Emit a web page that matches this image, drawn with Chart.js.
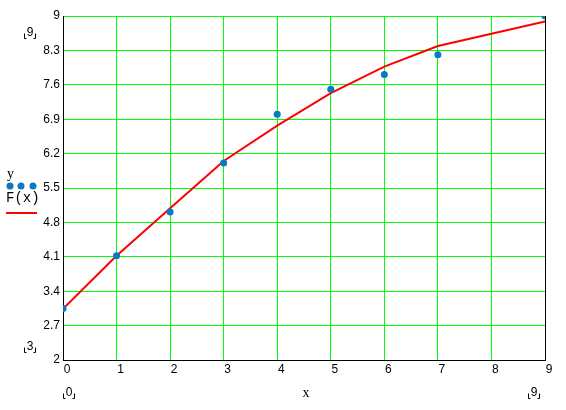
<!DOCTYPE html>
<html>
<head>
<meta charset="utf-8">
<script src="https://cdn.jsdelivr.net/npm/chart.js@4/dist/chart.umd.min.js"></script>
<style>
html,body{margin:0;padding:0;background:#fff;}
#wrap{width:566px;height:410px;position:relative;}
</style>
</head>
<body>
<div id="wrap"><canvas id="c"></canvas></div>
<script>
const xValues = [0, 1, 2, 3, 4, 5, 6, 7, 8, 9];
const yObserved = [3.05, 4.12, 5.01, 6.01, 7.0, 7.51, 7.81, 8.21, null, 9.0];
const fValues = [3.04, 4.12, 5.09, 6.05, 6.77, 7.43, 7.97, 8.39, 8.64, 8.89];
const yTickValues = [2, 2.7, 3.4, 4.1, 4.8, 5.5, 6.2, 6.9, 7.6, 8.3, 9];
const xTickValues = [0, 1, 2, 3, 4, 5, 6, 7, 8, 9];

const obsPoints = xValues.map((x, i) => ({x: x, y: yObserved[i]})).filter(p => p.y !== null);
const fPoints = xValues.map((x, i) => ({x: x, y: fValues[i]}));

const TICK_FONT = {family: 'Liberation Sans, Arial, sans-serif', size: 12};
const POINT_COLOR = '#0a78c2';

const extras = {
  id: 'extras',
  afterDraw(chart) {
    const ctx = chart.ctx;
    const a = chart.chartArea;
    ctx.save();
    // right border
    ctx.strokeStyle = '#000';
    ctx.lineWidth = 1;
    ctx.beginPath();
    ctx.moveTo(Math.round(a.right) + 0.5, a.top);
    ctx.lineTo(Math.round(a.right) + 0.5, a.bottom + 0.5);
    ctx.stroke();

    // placeholders with corner marks
    const ph = (txt, cx, cy) => {
      ctx.fillStyle = '#000';
      ctx.font = '12px Liberation Sans, Arial, sans-serif';
      ctx.textAlign = 'center';
      ctx.textBaseline = 'middle';
      ctx.fillText(txt, cx, cy);
      ctx.beginPath();
      const l = Math.round(cx - 6) + 0.5, r = Math.round(cx + 5) + 0.5;
      const t = Math.round(cy) + 0.5, b = Math.round(cy + 5) + 0.5;
      ctx.moveTo(l, t); ctx.lineTo(l, b); ctx.lineTo(l + 2, b);
      ctx.moveTo(r, t); ctx.lineTo(r, b); ctx.lineTo(r - 2, b);
      ctx.stroke();
    };
    ph('9', 30, 33);
    ph('3', 30, 347);
    ph('0', 69, 393);
    ph('9', 534, 393);

    // x axis title
    ctx.fillStyle = '#000';
    ctx.font = '14px Liberation Serif, serif';
    ctx.textAlign = 'center';
    ctx.textBaseline = 'middle';
    ctx.fillText('x', 306, 393);

    // legend
    ctx.textAlign = 'left';
    ctx.fillText('y', 7, 174);
    ctx.fillStyle = POINT_COLOR;
    [10, 21, 33].forEach(px => {
      ctx.beginPath();
      ctx.arc(px, 186, 3.5, 0, Math.PI * 2);
      ctx.fill();
    });
    ctx.fillStyle = '#000';
    ctx.font = '14px Liberation Mono, monospace';
    ctx.fillText('F(x)', 6, 198);
    ctx.strokeStyle = '#ff0000';
    ctx.lineWidth = 2;
    ctx.beginPath();
    ctx.moveTo(6, 213);
    ctx.lineTo(37, 213);
    ctx.stroke();
    ctx.restore();
  }
};

new Chart(document.getElementById('c'), {
  type: 'scatter',
  data: {
    datasets: [
      {
        label: 'F(x)',
        data: fPoints,
        showLine: true,
        borderColor: '#ff0000',
        borderWidth: 2,
        pointRadius: 0,
        tension: 0,
        clip: 0,
        order: 2
      },
      {
        label: 'y',
        data: obsPoints,
        showLine: false,
        backgroundColor: POINT_COLOR,
        borderWidth: 0,
        pointRadius: 3.5,
        clip: 0,
        order: 1
      }
    ]
  },
  options: {
    responsive: true,
    maintainAspectRatio: false,
    devicePixelRatio: 1,
    animation: false,
    layout: {padding: {left: 0, right: 21, top: 16, bottom: 0}},
    plugins: {legend: {display: false}, tooltip: {enabled: false}},
    scales: {
      x: {
        type: 'linear',
        min: 0, max: 9,
        afterBuildTicks: s => { s.ticks = xTickValues.map(v => ({value: v})); },
        afterFit: s => { s.height = 50; },
        grid: {color: '#00ff00', lineWidth: 1, drawTicks: false},
        border: {display: true, color: '#000', width: 1},
        ticks: {color: '#000', font: TICK_FONT, padding: 2, labelOffset: 4, maxRotation: 0,
                callback: v => String(v)}
      },
      y: {
        type: 'linear',
        min: 2, max: 9,
        afterBuildTicks: s => { s.ticks = yTickValues.map(v => ({value: v})); },
        afterFit: s => { s.width = 63; },
        grid: {color: '#00ff00', lineWidth: 1, drawTicks: false},
        border: {display: true, color: '#000', width: 1},
        ticks: {color: '#000', font: TICK_FONT, padding: 3,
                callback: v => String(Number(v.toFixed(1)))}
      }
    }
  },
  plugins: [extras]
});
</script>
</body>
</html>
